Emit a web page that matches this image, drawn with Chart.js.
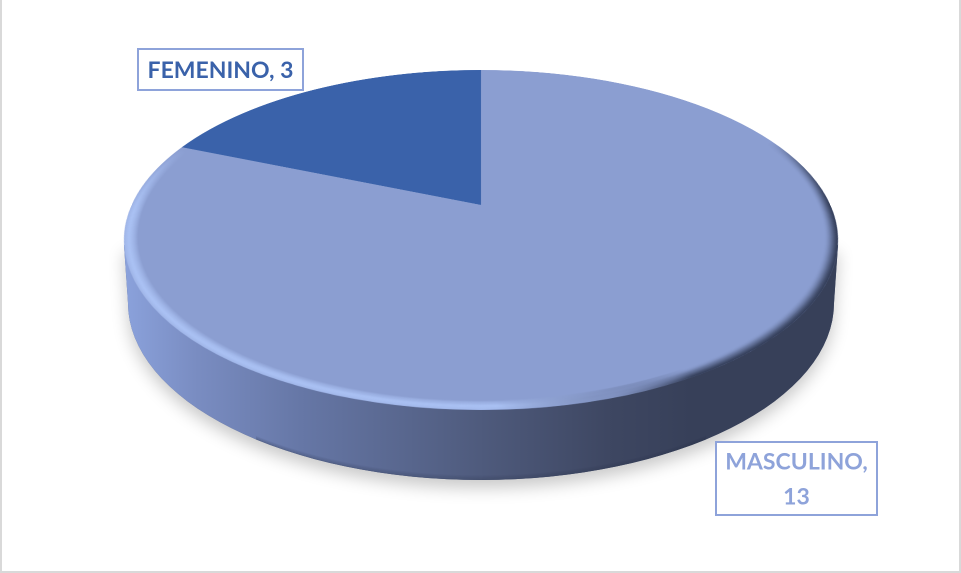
<!DOCTYPE html>
<html>
<head>
<meta charset="utf-8">
<style>
  html, body { margin: 0; background: #fff; }
  canvas { display: block; }
</style>
<script src="https://cdn.jsdelivr.net/npm/chart.js@4/dist/chart.umd.min.js"></script>
</head>
<body>
<canvas id="genderChart" width="961" height="573" style="width:961px;height:573px"></canvas>
<script>
const categories = ["MASCULINO", "FEMENINO"];
const counts = [13, 3];
const sliceColors = ["#8b9ed1", "#3a62aa"];
const labelColors = ["#8ea3da", "#3a62aa"];

// top face of the disc as seen in perspective
const DISC = { cx: 481, apexY: 205, topY: 70, bottomY: 410, halfWidth: 357 };
const labelBoxes = [
  { x: 716, y: 442, w: 161, h: 73 },
  { x: 138, y: 49, w: 165, h: 41 }
];

// returns screen position helpers for the tilted plane (u,v in the unit circle)
function tiltParams() {
  const up = DISC.apexY - DISC.topY;
  const down = DISC.bottomY - DISC.apexY;
  const a = (up - down) / (up + down);
  const b = down * (1 + a);
  const c = DISC.halfWidth * Math.sqrt(1 - a * a);
  return { a, b, c };
}

// soft rim round the flat pie, light on the left and bottom, dark on the right
function drawRim(t, x, y, r) {
  const steps = 22;
  const width = r * 0.038;
  for (let i = 0; i < steps; i++) {
    const f = i / (steps - 1);
    const strength = f < 0.65 ? f / 0.65 : 1 - (f - 0.65) / 0.35 * 0.5;
    const g = t.createConicGradient(0, x, y);
    const dark = `rgba(48,58,84,${0.85 * f * f})`;
    const light = `rgba(176,200,250,${0.62 * strength})`;
    const none = "rgba(176,200,250,0)";
    const noneDark = "rgba(48,58,84,0)";
    g.addColorStop(0, dark);
    g.addColorStop(60 / 360, dark);
    g.addColorStop(72 / 360, "rgba(110,125,165,0.2)");
    g.addColorStop(88 / 360, light);
    g.addColorStop(178 / 360, light);
    g.addColorStop(202 / 360, none);
    g.addColorStop(335 / 360, noneDark);
    g.addColorStop(1, dark);
    t.strokeStyle = g;
    t.lineWidth = width / steps + 1.2;
    t.beginPath();
    t.arc(x, y, r - width + width * f, 0, Math.PI * 2);
    t.stroke();
  }
}

function drawWall(ctx, dpr) {
  const bottom = { cy: 303, rx: 353, ry: 177 };
  const path = new Path2D();
  path.moveTo(DISC.cx - DISC.halfWidth, 245);
  path.lineTo(DISC.cx - bottom.rx, bottom.cy);
  path.ellipse(DISC.cx, bottom.cy, bottom.rx, bottom.ry, 0, Math.PI, 0, true);
  path.lineTo(DISC.cx + DISC.halfWidth, 245);
  path.closePath();

  ctx.save();
  ctx.shadowColor = "rgba(0,0,0,0.21)";
  ctx.shadowBlur = 16 * dpr;
  ctx.shadowOffsetY = 8 * dpr;
  ctx.fillStyle = "#4e5a7c";
  ctx.fill(path);
  ctx.restore();

  const g = ctx.createLinearGradient(DISC.cx - DISC.halfWidth, 0, DISC.cx + DISC.halfWidth, 0);
  g.addColorStop(0, "#8ba2dc");
  g.addColorStop(0.1, "#7a8dc2");
  g.addColorStop(0.25, "#6677a6");
  g.addColorStop(0.5, "#4f5b7d");
  g.addColorStop(0.68, "#3e4762");
  g.addColorStop(0.8, "#374059");
  g.addColorStop(1, "#374059");
  ctx.fillStyle = g;
  ctx.fill(path);

  // darker lip along the foot of the wall, front part only
  ctx.save();
  ctx.clip(path);
  for (let i = 0; i < 5; i++) {
    ctx.strokeStyle = `rgba(40,48,72,${0.05 * (i + 1)})`;
    ctx.lineWidth = 1;
    ctx.beginPath();
    ctx.ellipse(DISC.cx, bottom.cy, bottom.rx, bottom.ry - 4 + i, 0, Math.PI * 0.72, Math.PI * 0.28, true);
    ctx.stroke();
  }
  ctx.restore();
}

// redraws the flat pie row by row onto the tilted plane
function drawTiltedFace(ctx, flat, arc, dpr) {
  const { a, b, c } = tiltParams();
  const r = arc.outerRadius;
  ctx.setTransform(1, 0, 0, 1, 0, 0);
  for (let j = DISC.topY * dpr; j < DISC.bottomY * dpr; j++) {
    const rowMid = (j + 0.5) / dpr - DISC.apexY;
    const rowNext = (j + 1) / dpr - DISC.apexY;
    const v = rowMid / (b - a * rowMid);
    const vNext = rowNext / (b - a * rowNext);
    const half = c / (1 + a * v);
    const srcH = Math.max((vNext - v) * 2 * r * dpr, 1);
    const srcY = (arc.y + v * r) * dpr - srcH / 2;
    ctx.drawImage(flat,
      (arc.x - r) * dpr, srcY, 2 * r * dpr, srcH,
      (DISC.cx - half) * dpr, j, 2 * half * dpr, 1);
  }
  ctx.setTransform(dpr, 0, 0, dpr, 0, 0);
}

function drawLabels(ctx, chart) {
  categories.forEach((name, i) => {
    const box = labelBoxes[i];
    ctx.fillStyle = "#fff";
    ctx.fillRect(box.x, box.y, box.w, box.h);
    ctx.strokeStyle = "#8ea3da";
    ctx.lineWidth = 2;
    ctx.strokeRect(box.x, box.y, box.w, box.h);

    ctx.font = "bold 23px Lato";
    ctx.fillStyle = labelColors[i];
    ctx.textAlign = "center";
    ctx.textBaseline = "middle";
    const text = `${name}, ${chart.data.datasets[0].data[i]}`;
    let lines = [text];
    if (ctx.measureText(text).width > box.w - 8) lines = [`${name},`, `${chart.data.datasets[0].data[i]}`];
    const lineH = 35;
    const startY = box.y + box.h / 2 - (lines.length - 1) * lineH / 2;
    lines.forEach((line, k) => ctx.fillText(line, box.x + box.w / 2, startY + k * lineH + 1));
  });
}

const tiltPlugin = {
  id: "tiltPlugin",
  afterDraw(chart) {
    const ctx = chart.ctx;
    const canvas = chart.canvas;
    const dpr = chart.currentDevicePixelRatio;
    const arc = chart.getDatasetMeta(0).data[0];

    const flat = document.createElement("canvas");
    flat.width = canvas.width;
    flat.height = canvas.height;
    const t = flat.getContext("2d");
    t.drawImage(canvas, 0, 0);
    t.save();
    t.beginPath();
    t.arc(arc.x * dpr, arc.y * dpr, arc.outerRadius * dpr, 0, Math.PI * 2);
    t.clip();
    drawRim(t, arc.x * dpr, arc.y * dpr, arc.outerRadius * dpr);
    t.restore();

    ctx.save();
    ctx.fillStyle = "#fff";
    ctx.fillRect(0, 0, 961, 573);
    // thin frame, open at the top
    ctx.fillStyle = "#d9d9d9";
    ctx.fillRect(0, 0, 2, 573);
    ctx.fillRect(959, 0, 2, 573);
    ctx.fillRect(0, 571, 961, 2);

    drawWall(ctx, dpr);
    ctx.imageSmoothingQuality = "high";
    drawTiltedFace(ctx, flat, arc, dpr);
    drawLabels(ctx, chart);
    ctx.restore();
  }
};

new Chart(document.getElementById("genderChart"), {
  type: "pie",
  data: {
    labels: categories,
    datasets: [{ data: counts, backgroundColor: sliceColors, borderWidth: 0 }]
  },
  options: {
    responsive: false,
    devicePixelRatio: 2,
    animation: false,
    plugins: { legend: { display: false }, tooltip: { enabled: false } }
  },
  plugins: [tiltPlugin]
});
</script>
</body>
</html>
